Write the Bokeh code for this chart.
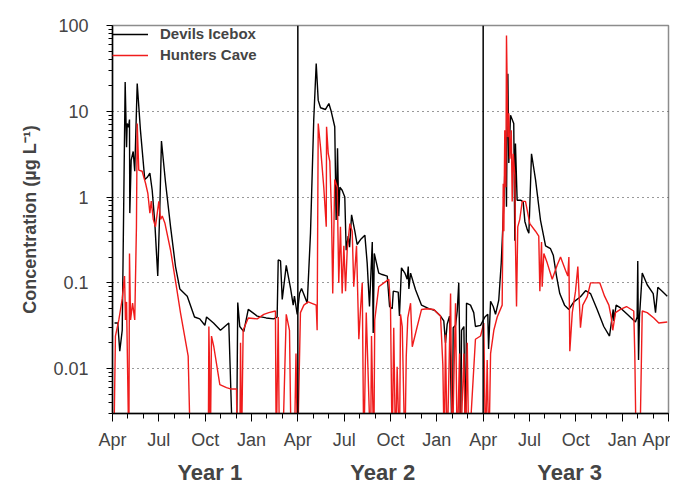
from bokeh.plotting import figure
from bokeh.models import (FixedTicker, LinearAxis, Arrow, Legend, LegendItem,
                          CustomJSTickFormatter, Range1d)
from bokeh.embed import file_html
from bokeh.resources import INLINE

# ---------------- data (months since April, Year 1; concentration in ug/L) ----
# values of 0.001 are non-detects plotted below the axis floor
dev_month = [
    0.13, 0.34, 0.47, 0.63, 0.82, 0.91, 0.95, 1.04, 1.10, 1.12,
    1.21, 1.34, 1.44, 1.60, 1.81, 2.09, 2.25, 2.42, 2.57, 2.74,
    2.93, 3.06, 3.17, 3.43, 3.76, 4.08, 4.36, 4.84, 5.31, 5.65,
    5.98, 6.09, 6.54, 6.99, 7.53, 7.79, 8.03, 8.11, 8.24, 8.50,
    8.79, 9.37, 9.95, 10.44, 10.66, 10.73, 10.88, 10.99, 11.25, 11.53,
    11.70, 11.78, 11.96,
    12.11, 12.24, 12.37, 12.61, 12.82, 13.03, 13.19, 13.32, 13.47, 13.79,
    14.01, 14.16, 14.39, 14.48, 14.57, 14.65, 14.72, 14.87, 15.04, 15.13,
    15.26, 15.35, 15.48, 15.69, 15.84, 16.06, 16.34, 16.49, 16.64, 16.82,
    16.88, 16.95, 17.24, 17.46, 17.79, 17.94, 18.11, 18.18, 18.50, 18.58,
    18.71, 18.93, 19.08, 19.15, 19.19, 19.30, 19.62, 20.01, 20.48, 20.85,
    21.24, 21.45, 21.56, 21.67, 21.82, 22.00, 22.06, 22.21, 22.32, 22.42,
    22.47, 22.53, 22.60, 22.75, 22.86, 22.92, 23.18, 23.39, 23.50, 23.83,
    24.11, 24.30, 24.35, 24.48, 24.65, 24.80, 25.01, 25.17, 25.30, 25.38,
    25.45, 25.51, 25.56, 25.60, 25.66, 25.77, 25.98, 26.05, 26.09, 26.20,
    26.42, 26.59, 26.70, 26.85, 26.96, 27.13, 27.39, 27.71, 28.04, 28.36,
    28.54, 28.75, 28.96, 29.27, 29.55, 29.87, 30.30, 30.63, 30.95, 31.38,
    31.81, 32.18, 32.42, 32.46, 32.61, 32.89, 33.33, 33.86, 33.97, 34.01,
    34.06, 34.12, 34.30, 34.62, 35.01, 35.16, 35.31, 35.59, 35.92,
]
dev_conc = [
    0.034, 0.034, 0.016, 0.028, 22, 3.8, 7.2, 6.5, 8, 0.65,
    2.7, 3.4, 2.0, 21, 6, 1.6, 1.7, 1.9, 1.2, 0.5,
    0.12, 0.7, 4.5, 1.5, 0.45, 0.155, 0.085, 0.07, 0.04, 0.038,
    0.032, 0.04, 0.034, 0.028, 0.034, 0.001, 0.001, 0.059, 0.031, 0.027,
    0.049, 0.041, 0.039, 0.038, 0.04, 0.185, 0.18, 0.064, 0.16, 0.086,
    0.055, 0.07, 0.043,
    0.075, 0.086, 0.075, 0.058, 0.38, 7.9, 36, 13.4, 11, 10.5,
    12.3, 10, 6.6, 0.54, 3.7, 0.6, 1.3, 1.2, 1.0, 0.24,
    0.35, 0.26, 0.62, 0.4, 0.28, 0.32, 0.36, 0.17, 0.053, 0.3,
    0.026, 0.22, 0.13, 0.125, 0.12, 0.053, 0.05, 0.08, 0.078, 0.041,
    0.15, 0.13, 0.11, 0.155, 0.085, 0.13, 0.083, 0.055, 0.05, 0.048,
    0.041, 0.036, 0.02, 0.033, 0.041, 0.001, 0.03, 0.032, 0.047, 0.1,
    0.025, 0.001, 0.028, 0.031, 0.001, 0.058, 0.055, 0.045, 0.031, 0.032,
    0.04, 0.043, 0.017, 0.061, 0.053, 0.043, 0.063, 0.17, 0.59, 1.4,
    5, 0.77, 13.4, 27.4, 2.5, 9, 7.2, 0.31, 4.2, 0.92,
    0.92, 0.88, 0.52, 0.42, 0.38, 3.2, 1.6, 0.54, 0.27, 0.25,
    0.21, 0.12, 0.075, 0.055, 0.049, 0.06, 0.069, 0.081, 0.075, 0.049,
    0.031, 0.024, 0.049, 0.036, 0.055, 0.051, 0.043, 0.035, 0.04, 0.18,
    0.0126, 0.04, 0.13, 0.095, 0.075, 0.045, 0.089, 0.08, 0.07,
]

hun_month = [
    0.08, 0.19, 0.41, 0.63, 0.78, 0.84, 0.91, 1.06, 1.10, 1.17,
    1.30, 1.44, 1.55, 1.60, 1.70, 1.92, 2.14, 2.29, 2.42, 2.51,
    2.64, 2.78, 3.00, 3.11, 3.22, 3.39, 3.76, 4.14, 4.40, 4.90,
    5.05, 6.20, 6.24, 6.28, 6.33, 6.41, 6.56, 6.95, 7.38, 7.64,
    8.03, 8.07, 8.24, 8.29, 8.35, 8.46, 8.79, 9.37, 9.80, 10.12,
    10.55, 10.60, 10.73, 10.81, 11.01, 11.25, 11.46, 11.57, 11.77, 11.88,
    11.98,
    12.17, 12.39, 12.67, 13.19, 13.25, 13.32, 13.47, 13.68, 13.84, 13.86,
    13.97, 14.07, 14.18, 14.26, 14.39, 14.55, 14.65, 14.76, 14.87, 14.98,
    15.09, 15.20, 15.37, 15.52, 15.62, 15.80, 15.95, 16.06, 16.17, 16.27,
    16.43, 16.71, 16.77, 16.92, 16.98, 17.24, 17.57, 17.89, 18.00, 18.11,
    18.21, 18.33, 18.43, 18.58, 18.65, 18.76, 18.93, 19.02, 19.12, 19.30,
    19.41, 19.73, 20.01, 20.38, 20.80, 21.24, 21.39, 21.48, 21.56, 21.67,
    21.89, 22.00, 22.21, 22.32, 22.47, 22.53, 22.75, 22.86, 22.97, 23.07,
    23.50, 23.83,
    24.04, 24.15, 24.26, 24.37, 24.48, 24.69, 24.91, 25.23, 25.30, 25.34,
    25.40, 25.47, 25.51, 25.60, 25.66, 25.73, 25.82, 25.88, 25.95, 26.05,
    26.09, 26.16, 26.24, 26.37, 26.53, 26.74, 27.02, 27.39, 27.60, 27.67,
    27.78, 27.82, 27.93, 28.15, 28.47, 28.79, 29.01, 29.33, 29.48, 29.55,
    29.61, 29.77, 29.98, 30.13, 30.30, 30.45, 30.74, 30.95, 31.55, 31.86,
    32.14, 32.29, 32.39, 32.57, 32.89, 33.28, 33.75, 33.82, 33.91, 34.14,
    34.30, 34.62, 35.05, 35.37, 35.92,
]
hun_conc = [
    0.001, 0.024, 0.037, 0.065, 0.12, 0.037, 0.06, 0.001, 0.22, 0.037,
    0.058, 0.037, 0.45, 7.2, 2.06, 2.0, 1.45, 1.1, 0.65, 0.9,
    0.55, 0.45, 0.89, 0.55, 0.6, 0.5, 0.24, 0.09, 0.045, 0.014,
    0.001, 0.001, 0.031, 0.011, 0.001, 0.024, 0.018, 0.0065, 0.006, 0.0058,
    0.0058, 0.001, 0.001, 0.02, 0.001, 0.028, 0.039, 0.038, 0.043, 0.045,
    0.047, 0.001, 0.04, 0.001, 0.001, 0.043, 0.028, 0.001, 0.001, 0.015,
    0.001,
    0.045, 0.055, 0.06, 0.055, 0.028, 7.2, 3.8, 1.3, 0.45, 6.6,
    3.2, 2.6, 0.65, 0.075, 1.6, 1.3, 0.1, 0.45, 0.075, 0.27,
    0.08, 0.25, 0.49, 0.4, 0.09, 0.27, 0.022, 0.05, 0.1, 0.001,
    0.045, 0.001, 0.024, 0.001, 0.037, 0.09, 0.1, 0.11, 0.053, 0.001,
    0.03, 0.001, 0.0105, 0.001, 0.043, 0.031, 0.001, 0.014, 0.039, 0.058,
    0.018, 0.031, 0.049, 0.05, 0.049, 0.041, 0.011, 0.001, 0.025, 0.001,
    0.075, 0.001, 0.058, 0.001, 0.015, 0.001, 0.015, 0.001, 0.02, 0.001,
    0.022, 0.024,
    0.034, 0.001, 0.0126, 0.001, 0.015, 0.028, 0.04, 0.055, 1.43, 0.4,
    6, 1.3, 76.5, 5, 9.5, 2.8, 6, 0.89, 3.2, 1.8,
    0.29, 0.053, 0.45, 0.55, 0.89, 0.89, 0.49, 0.4, 0.35, 0.08,
    0.3, 0.09, 0.22, 0.17, 0.11, 0.16, 0.2, 0.14, 0.12, 0.2,
    0.016, 0.045, 0.08, 0.155, 0.03, 0.055, 0.069, 0.1, 0.1, 0.07,
    0.055, 0.04, 0.028, 0.045, 0.049, 0.053, 0.047, 0.014, 0.001, 0.001,
    0.047, 0.045, 0.039, 0.034, 0.035,
]

month_ticks = [0, 3, 6, 9, 12, 15, 18, 21, 24, 27, 30, 33, 36]
month_labels = ["Apr", "Jul", "Oct", "Jan", "Apr", "Jul", "Oct", "Jan",
                "Apr", "Jul", "Oct", "Jan", "Apr"]
year_breaks = [12, 24]
year_pos = [6.3, 17.5, 29.6]
year_labels = ["Year 1", "Year 2", "Year 3"]
y_ticks = [0.01, 0.1, 1, 10, 100]
grid_ticks = [0.01, 0.1, 1, 10]

FONT = "Liberation Sans"

p = figure(width=670, height=488, y_axis_type="log",
           x_range=Range1d(0, 36), y_range=Range1d(0.003, 100),
           x_axis_location=None,
           output_backend="svg", toolbar_location=None,
           min_border_left=112, min_border_right=2,
           min_border_top=25, min_border_bottom=75,
           background_fill_color="white", border_fill_color="white")

p.outline_line_color = "#8c8c8c"
p.outline_line_width = 1.5
p.xgrid.visible = False
p.ygrid.ticker = FixedTicker(ticks=grid_ticks)
p.ygrid.grid_line_color = "#333333"
p.ygrid.grid_line_dash = "1 4"
p.ygrid.grid_line_width = 1

# y axis
ya = p.yaxis[0]
y_minor = [k * 10.0 ** e for e in range(-3, 2) for k in range(2, 10)
           if k * 10.0 ** e >= 0.003]
ya.ticker = FixedTicker(ticks=y_ticks, minor_ticks=y_minor)
ya.formatter = CustomJSTickFormatter(code="return tick.toString();")
ya.major_label_text_font = FONT
ya.major_label_text_font_size = "18px"
ya.major_label_standoff = 18
ya.major_tick_in = 0
ya.major_tick_out = 6
ya.minor_tick_in = 0
ya.minor_tick_out = 4
ya.axis_line_width = 1.5
ya.axis_label = "Concentration (\u00b5g L\u207b\u00b9)"
ya.axis_label_text_font = FONT
ya.axis_label_text_font_style = "bold"
ya.axis_label_text_font_size = "18px"
ya.axis_label_standoff = 10

# x axis: quarter labels, monthly ticks
xm = LinearAxis(ticker=FixedTicker(ticks=month_ticks, minor_ticks=list(range(37))),
                formatter=CustomJSTickFormatter(args=dict(t=month_ticks, l=month_labels),
                                                code="return l[t.indexOf(tick)];"),
                major_tick_in=0, major_tick_out=8, minor_tick_in=0, minor_tick_out=5,
                axis_line_width=1.5, major_tick_line_width=1, minor_tick_line_width=1,
                major_label_standoff=8,
                major_label_text_font=FONT, major_label_text_font_size="18px")
p.add_layout(xm, "below")

# year labels
xy = LinearAxis(ticker=FixedTicker(ticks=year_pos, minor_ticks=[]),
                formatter=CustomJSTickFormatter(args=dict(t=year_pos, l=year_labels),
                                                code="return l[t.indexOf(tick)];"),
                axis_line_color=None, major_tick_line_color=None,
                minor_tick_line_color=None, major_tick_out=0, major_tick_in=0,
                major_label_standoff=7,
                major_label_text_font=FONT, major_label_text_font_style="bold",
                major_label_text_font_size="22px")
p.add_layout(xy, "below")

# year-break lines
for loc in year_breaks:
    p.add_layout(Arrow(end=None, x_start=loc, y_start=100, x_end=loc, y_end=0.00206,
                       line_color="black", line_width=1.5))

r1 = p.line(dev_month, dev_conc, line_color="black", line_width=1.4)
r2 = p.line(hun_month, hun_conc, line_color="#f01c1c", line_width=1.4)

legend = Legend(items=[LegendItem(label="Devils Icebox", renderers=[r1]),
                       LegendItem(label="Hunters Cave", renderers=[r2])],
                location="top_left", border_line_color=None,
                background_fill_alpha=0, margin=0, padding=11,
                spacing=4, glyph_width=36, glyph_height=14, label_height=14,
                label_standoff=12, label_text_font=FONT,
                label_text_font_style="bold", label_text_font_size="15px")
p.add_layout(legend)

open("out.html", "w").write(file_html(p, INLINE))
